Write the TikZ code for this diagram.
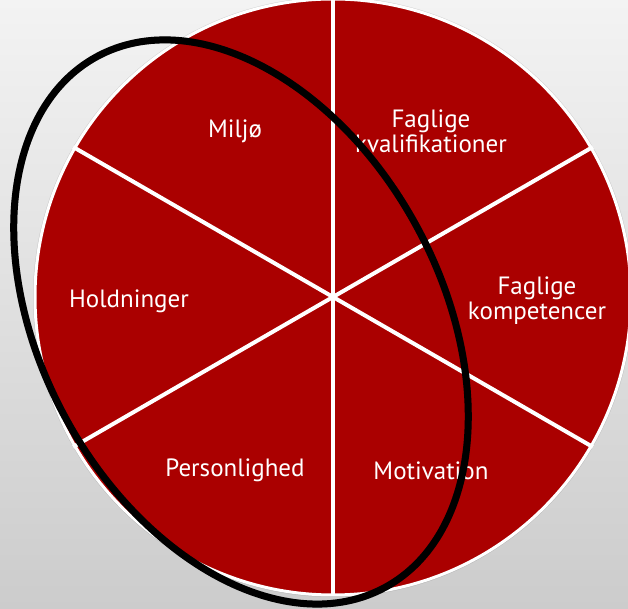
\documentclass[tikz,border=0pt]{standalone}
\usepackage{fontspec}
\setmainfont{PT Sans}
\definecolor{wheelred}{RGB}{170,0,0}
\definecolor{bgtop}{RGB}{243,243,243}
\definecolor{bgbottom}{RGB}{204,204,204}
\tikzset{
    sectorlabel/.style={text=white, font=\fontsize{12.5}{12.5}\selectfont, align=center},
    divider/.style={white, line width=2pt}
}
\begin{document}
\begin{tikzpicture}[x=0.5pt, y=0.5pt]
        \useasboundingbox (0,0) rectangle (628,609);
        \clip (0,0) rectangle (628,609);
        \shade[top color=bgtop, bottom color=bgbottom] (0,0) rectangle (628,609);

        % wheel
        \coordinate (c) at (333,312);
        \fill[black, opacity=0.12, shift={(-3,-4)}] (c) circle (300);
        \filldraw[fill=wheelred, draw=white, line width=1.5pt] (c) circle (298);
        \draw[divider] (c) -- ++(90:298);
        \draw[divider] (c) -- ++(270:298);
        \draw[divider] (c) -- ++(30:300);
        \draw[divider] (c) -- ++(210:300);
        \draw[divider] (c) -- ++(150:300);
        \draw[divider] (c) -- ++(330:300);

        % labels sit a touch below the wheel centre
        \coordinate (lc) at (333,308);
        \node[sectorlabel] (miljo) at ([shift={(120:196)}]lc) {Miljø};
        \node[sectorlabel] (kval) at ([shift={(60:196)}]lc) {Faglige\\kvalifikationer};
        \node[sectorlabel] (hold) at ([shift={(180:204)}]lc) {Holdninger};
        \node[sectorlabel] (komp) at ([shift={(0:204)}]lc) {Faglige\\kompetencer};
        \node[sectorlabel] (pers) at ([shift={(240:196)}]lc) {Personlighed};
        \node[sectorlabel] (motiv) at ([shift={(300:196)}]lc) {Motivation};

        % ring round the personal side
        \coordinate (ring) at (241,287);
        \draw[black, opacity=0.2, line width=3.5pt, shift={(-2,-3)}] (ring) ellipse[x radius=302, y radius=200, rotate=-61.5];
        \draw[black, line width=3.5pt] (ring) ellipse[x radius=302, y radius=200, rotate=-61.5];
    \end{tikzpicture}
\end{document}
